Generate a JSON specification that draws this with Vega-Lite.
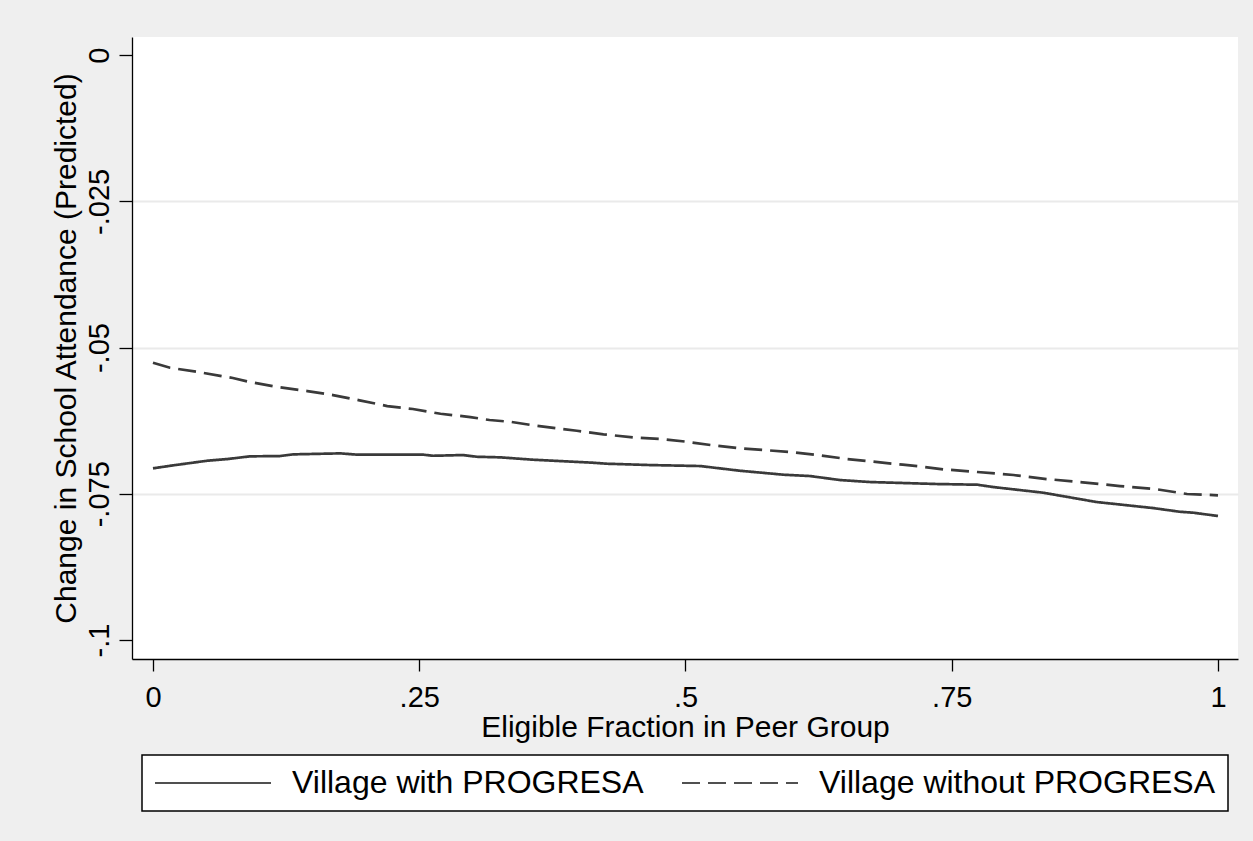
{
  "$schema": "https://vega.github.io/schema/vega-lite/v6.json",
  "width": 1106,
  "height": 622,
  "autosize": {"type": "none"},
  "padding": {"left": 132, "top": 37, "right": 15, "bottom": 182},
  "background": "#efefef",
  "config": {
    "view": {"fill": "white", "stroke": null},
    "font": "Liberation Sans",
    "axis": {
      "domainColor": "black",
      "domainWidth": 1.3,
      "tickColor": "black",
      "tickWidth": 1.3,
      "labelFont": "Liberation Sans",
      "labelFontSize": 29,
      "labelColor": "black",
      "titleFont": "Liberation Sans",
      "titleFontSize": 30,
      "titleFontWeight": "normal",
      "titleColor": "black",
      "gridColor": "#eaeaea",
      "gridWidth": 2
    },
    "legend": {
      "layout": {"bottom": {"anchor": "middle"}}
    }
  },
  "data": {
    "values": [
      {"x": 0, "y": -0.07065, "series": "Village with PROGRESA"},
      {"x": 0.019, "y": -0.07014, "series": "Village with PROGRESA"},
      {"x": 0.051, "y": -0.06935, "series": "Village with PROGRESA"},
      {"x": 0.07, "y": -0.06906, "series": "Village with PROGRESA"},
      {"x": 0.091, "y": -0.0686, "series": "Village with PROGRESA"},
      {"x": 0.119, "y": -0.06855, "series": "Village with PROGRESA"},
      {"x": 0.132, "y": -0.06826, "series": "Village with PROGRESA"},
      {"x": 0.176, "y": -0.06809, "series": "Village with PROGRESA"},
      {"x": 0.192, "y": -0.06832, "series": "Village with PROGRESA"},
      {"x": 0.254, "y": -0.06832, "series": "Village with PROGRESA"},
      {"x": 0.263, "y": -0.0685, "series": "Village with PROGRESA"},
      {"x": 0.291, "y": -0.06838, "series": "Village with PROGRESA"},
      {"x": 0.304, "y": -0.06867, "series": "Village with PROGRESA"},
      {"x": 0.326, "y": -0.06877, "series": "Village with PROGRESA"},
      {"x": 0.357, "y": -0.06918, "series": "Village with PROGRESA"},
      {"x": 0.413, "y": -0.06969, "series": "Village with PROGRESA"},
      {"x": 0.426, "y": -0.06986, "series": "Village with PROGRESA"},
      {"x": 0.467, "y": -0.07009, "series": "Village with PROGRESA"},
      {"x": 0.514, "y": -0.07026, "series": "Village with PROGRESA"},
      {"x": 0.551, "y": -0.07106, "series": "Village with PROGRESA"},
      {"x": 0.592, "y": -0.07174, "series": "Village with PROGRESA"},
      {"x": 0.617, "y": -0.07197, "series": "Village with PROGRESA"},
      {"x": 0.645, "y": -0.07265, "series": "Village with PROGRESA"},
      {"x": 0.673, "y": -0.07299, "series": "Village with PROGRESA"},
      {"x": 0.736, "y": -0.07333, "series": "Village with PROGRESA"},
      {"x": 0.774, "y": -0.07345, "series": "Village with PROGRESA"},
      {"x": 0.789, "y": -0.07385, "series": "Village with PROGRESA"},
      {"x": 0.836, "y": -0.07482, "series": "Village with PROGRESA"},
      {"x": 0.886, "y": -0.07641, "series": "Village with PROGRESA"},
      {"x": 0.939, "y": -0.07744, "series": "Village with PROGRESA"},
      {"x": 0.964, "y": -0.07807, "series": "Village with PROGRESA"},
      {"x": 0.977, "y": -0.07824, "series": "Village with PROGRESA"},
      {"x": 1.0, "y": -0.0788, "series": "Village with PROGRESA"},
      {"x": 0, "y": -0.0526, "series": "Village without PROGRESA"},
      {"x": 0.016, "y": -0.05345, "series": "Village without PROGRESA"},
      {"x": 0.041, "y": -0.05414, "series": "Village without PROGRESA"},
      {"x": 0.066, "y": -0.05492, "series": "Village without PROGRESA"},
      {"x": 0.075, "y": -0.05521, "series": "Village without PROGRESA"},
      {"x": 0.091, "y": -0.0559, "series": "Village without PROGRESA"},
      {"x": 0.116, "y": -0.0567, "series": "Village without PROGRESA"},
      {"x": 0.145, "y": -0.05744, "series": "Village without PROGRESA"},
      {"x": 0.169, "y": -0.05812, "series": "Village without PROGRESA"},
      {"x": 0.194, "y": -0.05903, "series": "Village without PROGRESA"},
      {"x": 0.22, "y": -0.06, "series": "Village without PROGRESA"},
      {"x": 0.244, "y": -0.06051, "series": "Village without PROGRESA"},
      {"x": 0.27, "y": -0.06132, "series": "Village without PROGRESA"},
      {"x": 0.298, "y": -0.06188, "series": "Village without PROGRESA"},
      {"x": 0.316, "y": -0.06239, "series": "Village without PROGRESA"},
      {"x": 0.335, "y": -0.06268, "series": "Village without PROGRESA"},
      {"x": 0.357, "y": -0.0633, "series": "Village without PROGRESA"},
      {"x": 0.398, "y": -0.06422, "series": "Village without PROGRESA"},
      {"x": 0.423, "y": -0.06484, "series": "Village without PROGRESA"},
      {"x": 0.451, "y": -0.06535, "series": "Village without PROGRESA"},
      {"x": 0.476, "y": -0.06564, "series": "Village without PROGRESA"},
      {"x": 0.501, "y": -0.0661, "series": "Village without PROGRESA"},
      {"x": 0.526, "y": -0.06672, "series": "Village without PROGRESA"},
      {"x": 0.551, "y": -0.06723, "series": "Village without PROGRESA"},
      {"x": 0.577, "y": -0.06757, "series": "Village without PROGRESA"},
      {"x": 0.601, "y": -0.06791, "series": "Village without PROGRESA"},
      {"x": 0.626, "y": -0.06843, "series": "Village without PROGRESA"},
      {"x": 0.652, "y": -0.06906, "series": "Village without PROGRESA"},
      {"x": 0.673, "y": -0.06945, "series": "Village without PROGRESA"},
      {"x": 0.704, "y": -0.07003, "series": "Village without PROGRESA"},
      {"x": 0.72, "y": -0.07031, "series": "Village without PROGRESA"},
      {"x": 0.742, "y": -0.07082, "series": "Village without PROGRESA"},
      {"x": 0.774, "y": -0.07128, "series": "Village without PROGRESA"},
      {"x": 0.808, "y": -0.07179, "series": "Village without PROGRESA"},
      {"x": 0.839, "y": -0.07248, "series": "Village without PROGRESA"},
      {"x": 0.873, "y": -0.07304, "series": "Village without PROGRESA"},
      {"x": 0.908, "y": -0.07368, "series": "Village without PROGRESA"},
      {"x": 0.943, "y": -0.07424, "series": "Village without PROGRESA"},
      {"x": 0.971, "y": -0.07504, "series": "Village without PROGRESA"},
      {"x": 1.0, "y": -0.07526, "series": "Village without PROGRESA"}
    ]
  },
  "mark": {"type": "line", "strokeWidth": 2.7, "color": "#3a3a3a"},
  "encoding": {
    "x": {
      "field": "x",
      "type": "quantitative",
      "scale": {"domain": [-0.0197, 1.0188], "nice": false, "zero": false},
      "axis": {
        "values": [0, 0.25, 0.5, 0.75, 1],
        "title": "Eligible Fraction in Peer Group",
        "labelExpr": "datum.value == 0 ? '0' : datum.value == 1 ? '1' : replace(format(datum.value, '.2~f'), '0.', '.')",
        "grid": false,
        "tickSize": 12,
        "labelPadding": 12,
        "labelBaseline": "top",
        "titlePadding": 0,
        "labelFlush": false
      }
    },
    "y": {
      "field": "y",
      "type": "quantitative",
      "scale": {"domain": [-0.10325, 0.0031], "nice": false, "zero": false},
      "axis": {
        "values": [0, -0.025, -0.05, -0.075, -0.1],
        "title": "Change in School Attendance (Predicted)",
        "labelExpr": "datum.value == 0 ? '0' : '-' + replace(format(abs(datum.value), '.3~f'), '0.', '.')",
        "grid": true,
        "gridOpacity": {"condition": {"test": "datum.value == 0 || datum.value == -0.1", "value": 0}, "value": 1},
        "tickSize": 13,
        "labelAngle": 270,
        "labelAlign": "center",
        "labelBaseline": "alphabetic",
        "labelPadding": 11,
        "titlePadding": 4,
        "labelFlush": false
      }
    },
    "strokeDash": {
      "field": "series",
      "type": "nominal",
      "scale": {
        "domain": ["Village with PROGRESA", "Village without PROGRESA"],
        "range": [[1, 0], [18, 8]]
      },
      "legend": {
        "orient": "bottom",
        "direction": "horizontal",
        "title": null,
        "fillColor": "white",
        "strokeColor": "black",
        "padding": 12,
        "offset": 13,
        "clipHeight": 32,
        "labelFont": "Liberation Sans",
        "labelFontSize": 32,
        "labelColor": "black",
        "labelOffset": 20,
        "labelLimit": 800,
        "symbolType": "stroke",
        "symbolSize": 13456,
        "symbolStrokeWidth": 2,
        "symbolStrokeColor": "#505050",
        "columnPadding": 37,
        "encode": {
          "legend": {
            "update": {"strokeWidth": {"value": 1.5}}
          },
          "symbols": {
            "update": {
              "strokeDash": {"signal": "datum.value == 'Village without PROGRESA' ? [13, 6] : [1, 0]"}
            }
          }
        }
      }
    }
  }
}
